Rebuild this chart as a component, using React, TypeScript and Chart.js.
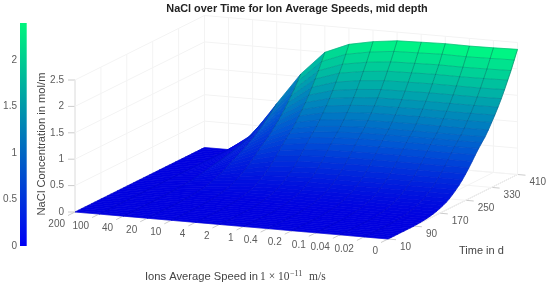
import React, { useEffect, useRef } from "react";
import { Chart, registerables } from "chart.js";

Chart.register(...registerables);

const speedLabels = ["200", "100", "40", "20", "10", "4", "2", "1", "0.4", "0.2", "0.1", "0.04", "0.02", "0"];
const timeDays = [10, 20, 30, 40, 50, 60, 70, 80, 90, 100, 110, 120, 130, 140, 150, 160, 170, 180, 190, 200, 210, 220, 230, 240, 250, 260, 270, 280, 290, 300, 310, 320, 330, 340, 350, 360, 370, 380, 390, 400, 410];
const timeTicks = [10, 90, 170, 250, 330, 410];
const zTicks = [0, 0.5, 1, 1.5, 2, 2.5];
const colorbarTicks = [0, 0.5, 1, 1.5, 2];

const c200 = [0, 0, 0, 0, 0, 0, 0, 0, 0, 0, 0, 0, 0, 0, 0, 0, 0, 0, 0, 0, 0, 0, 0, 0, 0, 0, 0, 0, 0, 0, 0, 0, 0, 0, 0, 0, 0, 0, 0, 0, 0];
const c100 = [0, 0, 0, 0, 0, 0, 0, 0, 0, 0, 0, 0, 0, 0, 0, 0, 0, 0, 0, 0, 0, 0, 0, 0, 0, 0, 0, 0, 0, 0, 0, 0, 0, 0, 0, 0, 0, 0, 0, 0, 0];
const c40 = [0, 0, 0, 0, 0, 0, 0, 0, 0, 0.001, 0.001, 0.002, 0.003, 0.005, 0.007, 0.009, 0.012, 0.016, 0.02, 0.026, 0.033, 0.04, 0.049, 0.058, 0.07, 0.081, 0.094, 0.107, 0.12, 0.131, 0.142, 0.156, 0.171, 0.186, 0.203, 0.221, 0.24, 0.261, 0.282, 0.306, 0.33];
const c20 = [0, 0, 0, 0, 0, 0, 0, 0, 0, 0.002, 0.003, 0.006, 0.009, 0.013, 0.019, 0.026, 0.035, 0.046, 0.058, 0.074, 0.094, 0.116, 0.14, 0.168, 0.2, 0.234, 0.27, 0.308, 0.344, 0.376, 0.408, 0.448, 0.492, 0.536, 0.584, 0.636, 0.692, 0.752, 0.812, 0.88, 0.95];
const c10 = [0, 0, 0, 0, 0, 0, 0, 0, 0, 0.003, 0.005, 0.009, 0.014, 0.022, 0.031, 0.043, 0.057, 0.074, 0.095, 0.121, 0.153, 0.189, 0.229, 0.274, 0.327, 0.382, 0.441, 0.503, 0.562, 0.614, 0.666, 0.731, 0.803, 0.875, 0.953, 1.038, 1.13, 1.228, 1.326, 1.437, 1.55];
const c4 = [0, 0, 0, 0, 0, 0, 0, 0, 0, 0.003, 0.007, 0.012, 0.019, 0.028, 0.04, 0.056, 0.074, 0.096, 0.122, 0.156, 0.198, 0.244, 0.295, 0.354, 0.422, 0.493, 0.569, 0.649, 0.725, 0.792, 0.86, 0.944, 1.037, 1.13, 1.231, 1.34, 1.458, 1.585, 1.711, 1.855, 2.0];
const c2 = [0, 0, 0, 0, 0, 0, 0, 0, 0, 0.004, 0.007, 0.013, 0.02, 0.03, 0.044, 0.061, 0.081, 0.105, 0.134, 0.171, 0.217, 0.268, 0.323, 0.388, 0.462, 0.54, 0.623, 0.711, 0.794, 0.868, 0.941, 1.034, 1.135, 1.237, 1.348, 1.468, 1.597, 1.735, 1.874, 2.031, 2.19];
const c1 = [0, 0, 0, 0, 0, 0, 0, 0, 0, 0.004, 0.008, 0.013, 0.021, 0.032, 0.046, 0.063, 0.085, 0.11, 0.139, 0.178, 0.226, 0.279, 0.336, 0.404, 0.481, 0.562, 0.649, 0.74, 0.826, 0.903, 0.98, 1.076, 1.182, 1.288, 1.403, 1.528, 1.663, 1.807, 1.951, 2.114, 2.28];
const c04 = [0, 0, 0, 0, 0, 0, 0, 0, 0, 0.004, 0.008, 0.014, 0.022, 0.032, 0.047, 0.065, 0.087, 0.112, 0.143, 0.182, 0.231, 0.285, 0.344, 0.413, 0.492, 0.576, 0.664, 0.758, 0.846, 0.925, 1.004, 1.102, 1.21, 1.319, 1.437, 1.565, 1.702, 1.85, 1.998, 2.165, 2.335];
const c02 = [0, 0, 0, 0, 0, 0, 0, 0, 0, 0.004, 0.008, 0.014, 0.022, 0.033, 0.047, 0.065, 0.087, 0.113, 0.143, 0.183, 0.233, 0.287, 0.346, 0.416, 0.495, 0.579, 0.668, 0.762, 0.851, 0.93, 1.009, 1.108, 1.217, 1.326, 1.445, 1.573, 1.712, 1.86, 2.009, 2.177, 2.348];
const c01 = [0, 0, 0, 0, 0, 0, 0, 0, 0, 0.004, 0.008, 0.014, 0.022, 0.033, 0.048, 0.066, 0.088, 0.113, 0.144, 0.184, 0.234, 0.288, 0.348, 0.418, 0.497, 0.582, 0.671, 0.766, 0.855, 0.935, 1.014, 1.114, 1.223, 1.333, 1.452, 1.581, 1.72, 1.87, 2.02, 2.19, 2.36];
const c004 = [0, 0, 0, 0, 0, 0, 0, 0, 0, 0.004, 0.008, 0.014, 0.022, 0.033, 0.048, 0.066, 0.088, 0.113, 0.144, 0.184, 0.234, 0.288, 0.348, 0.418, 0.497, 0.582, 0.671, 0.766, 0.855, 0.935, 1.014, 1.114, 1.223, 1.333, 1.452, 1.581, 1.72, 1.865, 2.014, 2.182, 2.354];
const c002 = [0, 0, 0, 0, 0, 0, 0, 0, 0, 0.004, 0.008, 0.014, 0.022, 0.033, 0.048, 0.066, 0.088, 0.113, 0.144, 0.184, 0.234, 0.288, 0.348, 0.418, 0.497, 0.582, 0.671, 0.766, 0.855, 0.935, 1.014, 1.114, 1.223, 1.333, 1.452, 1.581, 1.72, 1.87, 2.02, 2.19, 2.36];
const c0 = [0, 0, 0, 0, 0, 0, 0, 0, 0, 0.004, 0.008, 0.014, 0.022, 0.033, 0.048, 0.066, 0.088, 0.114, 0.145, 0.185, 0.235, 0.29, 0.35, 0.42, 0.5, 0.585, 0.675, 0.77, 0.86, 0.94, 1.02, 1.12, 1.23, 1.34, 1.46, 1.59, 1.73, 1.88, 2.03, 2.2, 2.37];
const surface = [c200, c100, c40, c20, c10, c4, c2, c1, c04, c02, c01, c004, c002, c0];

const TITLE = "NaCl over Time for Ion Average Speeds, mid depth";
const Z_TITLE = "NaCl Concentration in mol/m";
const TIME_TITLE = "Time in d";
const SPEED_TITLE = "Ions Average Speed in ";

const COLOR_MAX = 2.373;
const T0 = 10;
const T1 = 410;
const Z_TOP = 2.5;
const N = speedLabels.length - 1;

// Orthographic projection of (speed index, time, concentration) to page pixels.
const project = (k: number, t: number, z: number) => {
  const f = (t - T0) / (T1 - T0);
  return { x: 75 + (313 / N) * k + 129.5 * f, y: 212 + (27 / N) * k - 64.5 * f - 52.8 * z };
};

const level = (z: number) => Math.max(0, Math.min(1, z / COLOR_MAX));

const winter = (z: number) => {
  const v = level(z);
  const shade = 0.88 + 0.12 * Math.min(1, v * 3);
  return `rgb(0,${Math.round(255 * v * shade)},${Math.round(255 * (1 - v / 2) * shade)})`;
};

const line = (pts: { x: number; y: number }[], color: string, width: number) => ({
  data: pts,
  showLine: true,
  pointRadius: 0,
  borderColor: color,
  borderWidth: width,
  fill: false,
  tension: 0,
  clip: false as const,
});

function buildDatasets() {
  const mesh: any[] = [];
  const quads: any[] = [];
  const back: any[] = [];
  const last = timeDays.length - 1;

  // mesh on top: stronger where the surface is higher
  surface.forEach((col, k) => {
    mesh.push({
      ...line(timeDays.map((t, i) => project(k, t, col[i])), "rgba(0,20,50,0.3)", 0.8),
      segment: { borderColor: (c: any) => `rgba(0,20,50,${0.1 + 0.32 * level(col[c.p0DataIndex])})` },
    });
  });
  timeDays.forEach((t, i) => {
    mesh.push({
      ...line(surface.map((col, k) => project(k, t, col[i])), "rgba(0,20,50,0.1)", 0.7),
      segment: { borderColor: (c: any) => `rgba(0,20,50,${0.01 + 0.24 * level(surface[c.p0DataIndex][i])})` },
    });
  });

  // faces, nearest first because Chart.js paints the last dataset first
  for (let i = 0; i < last; i++) {
    for (let k = N - 1; k >= 0; k--) {
      const a = surface[k][i], b = surface[k + 1][i], c = surface[k + 1][i + 1], d = surface[k][i + 1];
      const color = winter((a + b + c + d) / 4);
      const t0 = timeDays[i], t1 = timeDays[i + 1];
      quads.push({
        ...line([project(k, t0, a), project(k + 1, t0, b), project(k + 1, t1, c), project(k, t1, d), project(k, t0, a)], color, 0.7),
        fill: "shape",
        backgroundColor: color,
      });
    }
  }

  // axes ticks and walls
  const wall = "#f3f3f3";
  const axis = "#cccccc";
  zTicks.forEach((z) => {
    back.push(line([project(0, T0, z), project(0, T1, z), project(N, T1, z)], wall, 1));
  });
  timeTicks.forEach((t) => {
    back.push(line([project(0, t, 0), project(0, t, Z_TOP)], wall, 1));
    back.push(line([project(0, t, 0), project(N, t, 0)], wall, 1));
  });
  speedLabels.forEach((_, k) => {
    back.push(line([project(k, T1, 0), project(k, T1, Z_TOP)], wall, 1));
    back.push(line([project(k, T0, 0), project(k, T1, 0)], wall, 1));
  });
  back.push(line([project(0, T0, 0), project(0, T0, Z_TOP)], axis, 1));
  back.push(line([project(0, T0, 0), project(N, T0, 0)], axis, 1));
  back.push(line([project(N, T0, 0), project(N, T1, 0)], axis, 1));
  zTicks.forEach((z) => {
    const p = project(0, T0, z);
    back.push(line([p, { x: p.x - 7, y: p.y }], axis, 1));
  });
  timeTicks.forEach((t) => {
    const p = project(N, t, 0);
    back.push(line([p, { x: p.x + 8, y: p.y + 0.7 }], axis, 1));
  });
  speedLabels.forEach((_, k) => {
    const p = project(k, T0, 0);
    back.push(line([p, { x: p.x - 7, y: p.y + 3.5 }], axis, 1));
  });
  return [...mesh, ...quads, ...back];
}

const textPlugin = {
  id: "surfaceText",
  afterDraw(chart: any) {
    const { ctx, scales } = chart;
    const px = (v: number) => scales.x.getPixelForValue(v);
    const py = (v: number) => scales.y.getPixelForValue(v);
    const sans = "Liberation Sans, Arial, sans-serif";
    const serif = "Liberation Serif, serif";
    const put = (s: string, x: number, y: number, align: CanvasTextAlign, font: string, color: string) => {
      ctx.font = font;
      ctx.textAlign = align;
      ctx.textBaseline = "middle";
      ctx.fillStyle = color;
      ctx.fillText(s, px(x), py(y));
    };
    ctx.save();
    const tick = `10px ${sans}`;
    const tc = "#5c5c5c";

    // colour bar
    const barTop = 23, barBottom = 246, perUnit = 92.9;
    const g = ctx.createLinearGradient(0, py(barBottom), 0, py(barTop));
    g.addColorStop(0, "rgb(0,0,245)");
    g.addColorStop(1, "rgb(0,245,125)");
    ctx.fillStyle = g;
    ctx.fillRect(px(20), py(barTop), 6.7, py(barBottom) - py(barTop));
    colorbarTicks.forEach((v) => put(String(v), 17, barBottom - v * perUnit, "right", tick, tc));

    zTicks.forEach((z) => {
      const p = project(0, T0, z);
      put(String(z), p.x - 11, p.y, "right", tick, tc);
    });
    speedLabels.forEach((s, k) => {
      const p = project(k, T0, 0);
      put(s, p.x - 10, p.y + 12, "right", tick, tc);
    });
    timeTicks.forEach((t) => {
      const p = project(N, t, 0);
      put(String(t), p.x + 12, p.y + 8, "left", tick, tc);
    });

    put(TITLE, 297, 9, "center", `bold 10.9px ${sans}`, "#222222");
    put(TIME_TITLE, 459, 251, "left", `11px ${sans}`, "#444444");

    put(SPEED_TITLE, 145, 277, "left", `11.2px ${sans}`, "#444444");
    put("1 \u00d7 10", 260, 277, "left", `11.5px ${serif}`, "#444444");
    put("\u221211", 290, 274, "left", `8px ${serif}`, "#444444");
    put("m/s", 309, 277, "left", `11.5px ${serif}`, "#444444");

    ctx.translate(px(42), py(144));
    ctx.rotate(-Math.PI / 2);
    ctx.font = `11.2px ${sans}`;
    ctx.textAlign = "center";
    ctx.textBaseline = "middle";
    ctx.fillStyle = "#444444";
    ctx.fillText(Z_TITLE, 0, 0);
    ctx.restore();
  },
};

export default function App() {
  const ref = useRef<HTMLCanvasElement>(null);
  useEffect(() => {
    document.body.style.margin = "0";
    const chart = new Chart(ref.current!, {
      type: "scatter",
      data: { datasets: buildDatasets() },
      options: {
        responsive: false,
        animation: false,
        events: [],
        layout: { padding: 0 },
        scales: {
          x: { type: "linear", display: false, min: 0, max: 550 },
          y: { type: "linear", display: false, min: 0, max: 289, reverse: true },
        },
        plugins: {
          legend: { display: false },
          tooltip: { enabled: false },
          filler: { drawTime: "beforeDatasetDraw", propagate: false },
        },
      } as any,
      plugins: [textPlugin],
    });
    return () => chart.destroy();
  }, []);
  return <canvas ref={ref} width={550} height={289} style={{ display: "block", width: 550, height: 289, filter: "blur(0.4px)" }} />;
}
